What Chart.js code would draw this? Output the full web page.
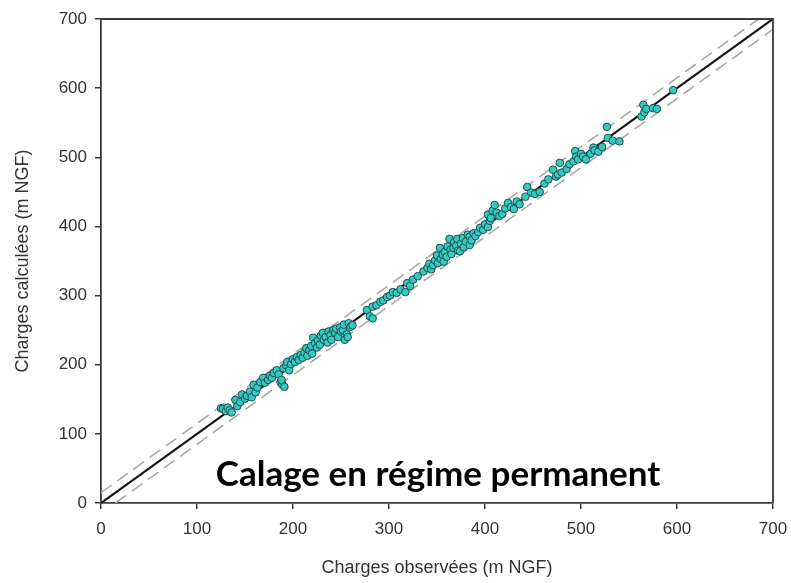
<!DOCTYPE html>
<html>
<head>
<meta charset="utf-8">
<script src="https://cdn.jsdelivr.net/npm/chart.js@4/dist/chart.umd.min.js"></script>
<style>
  body { margin: 0; background: #fff; }
  #wrap { position: relative; width: 791px; height: 583px; }
  #label {
    position: absolute; left: 438px; top: 455px; transform: translateX(-50%);
    font-family: Lato, "Open Sans", sans-serif; font-weight: bold; font-size: 35px;
    line-height: 1; white-space: nowrap; color: #000;
  }
</style>
</head>
<body>
<div id="wrap">
  <canvas id="chart" width="791" height="583"></canvas>
  <div id="label">Calage en régime permanent</div>
</div>
<script>
// observed heads (x) and computed heads (y), m NGF
const observed = [
  125, 127, 130, 132, 134, 136, 140, 142, 145, 147, 150, 152, 155, 157, 159, 161, 163, 166, 169, 171,
  174, 176, 178, 180, 183, 185, 187, 189, 191, 188, 190, 193, 194, 196, 198, 200, 202, 204, 206, 208,
  210, 212, 214, 215, 217, 219, 220, 221, 223, 225, 226, 228, 229, 231, 232, 234, 236, 237, 239, 240,
  242, 244, 245, 247, 249, 250, 252, 253, 254, 256, 257, 258, 260, 262,
  277, 280, 283, 283, 287, 291, 294, 298, 301, 304, 308, 312, 317, 319, 322, 325, 330, 336, 340, 342,
  344, 346, 348, 350, 351, 353, 354, 356, 357, 358, 360, 361, 363, 364, 365, 367, 368, 370, 371, 372,
  374, 375, 377, 378, 380, 382, 384, 384, 386, 388, 390, 393, 395, 398, 400, 403, 403, 405, 406, 408,
  410, 412, 415, 418, 421, 424, 427, 430, 433, 436, 442, 444, 448, 452, 457, 462, 466, 471, 474, 476,
  478, 480, 485, 488, 492, 494, 495, 497, 500, 502, 505, 510, 513, 514, 518, 522, 527, 528, 533, 540,
  563, 565, 566, 568, 575, 579, 596
];
const calculated = [
  137, 136, 133, 138, 134, 131, 149, 140, 146, 157, 151, 155, 161, 153, 171, 160, 167, 175, 181, 174,
  178, 184, 181, 188, 192, 186, 175, 171, 168, 178, 195, 199, 204, 192, 201, 208, 204, 211, 207, 214,
  210, 218, 224, 213, 221, 227, 216, 239, 231, 225, 235, 229, 242, 246, 236, 240, 232, 248, 243, 236,
  250, 246, 252, 240, 254, 248, 250, 258, 236, 244, 240, 260, 255, 257,
  279, 270, 267, 284, 286, 291, 293, 298, 300, 305, 304, 309, 305, 318, 314, 323, 328, 335, 340, 346,
  338, 344, 351, 358, 347, 369, 353, 359, 349, 363, 356, 371, 382, 366, 360, 369, 377, 372, 382, 365,
  364, 375, 383, 370, 378, 388, 385, 373, 380, 390, 386, 392, 398, 395, 403, 399, 417, 408, 412, 423,
  431, 420, 415, 418, 426, 434, 428, 425, 436, 432, 443, 457, 449, 447, 450, 462, 468, 482, 472, 475,
  492, 478, 483, 490, 494, 509, 501, 497, 505, 501, 497, 505, 514, 510, 508, 515, 544, 528, 524, 523,
  559, 576, 565, 570, 571, 570, 597
];
const axisTicks = [0, 100, 200, 300, 400, 500, 600, 700];
const axisMin = 0;
const axisMax = 700;
const tolerance = 15; // dashed band around the 1:1 line

const points = observed.map((x, i) => ({ x: x, y: calculated[i] }));

// box the plot on top and right like the original figure
const boxPlugin = {
  id: 'box',
  afterDraw(chart) {
    const { ctx, chartArea: a } = chart;
    ctx.save();
    ctx.strokeStyle = '#3a3a3a';
    ctx.lineWidth = 1.8;
    ctx.beginPath();
    ctx.moveTo(a.left, a.top);
    ctx.lineTo(a.right, a.top);
    ctx.lineTo(a.right, a.bottom);
    ctx.stroke();
    ctx.restore();
  }
};

const tickFont = { family: '"Liberation Sans", Arial, sans-serif', size: 17 };
const titleFont = { family: '"Liberation Sans", Arial, sans-serif', size: 18 };

const ctx = document.getElementById('chart').getContext('2d');
new Chart(ctx, {
  type: 'scatter',
  data: {
    datasets: [
      {
        label: 'Points',
        data: points,
        backgroundColor: '#35c9c2',
        borderColor: '#1d4f4f',
        borderWidth: 1,
        pointRadius: 3.8,
        order: 0
      },
      {
        type: 'line',
        label: '1:1',
        data: [{ x: axisMin, y: axisMin }, { x: axisMax, y: axisMax }],
        borderColor: '#111',
        borderWidth: 2.2,
        pointRadius: 0,
        order: 1
      },
      {
        type: 'line',
        label: '+tol',
        data: [{ x: axisMin, y: axisMin + tolerance }, { x: axisMax - tolerance, y: axisMax }],
        borderColor: '#a8a8a8',
        borderWidth: 1.6,
        borderDash: [13, 7],
        pointRadius: 0,
        order: 2
      },
      {
        type: 'line',
        label: '-tol',
        data: [{ x: axisMin + tolerance, y: axisMin }, { x: axisMax, y: axisMax - tolerance }],
        borderColor: '#a8a8a8',
        borderWidth: 1.6,
        borderDash: [13, 7],
        pointRadius: 0,
        order: 2
      }
    ]
  },
  options: {
    responsive: false,
    animation: false,
    layout: { padding: { left: 0, top: 19, right: 18, bottom: 0 } },
    plugins: {
      legend: { display: false },
      tooltip: { enabled: false }
    },
    scales: {
      x: {
        type: 'linear',
        min: axisMin,
        max: axisMax,
        afterBuildTicks: s => { s.ticks = axisTicks.map(v => ({ value: v })); },
        afterFit: s => { s.height = 80; s.paddingLeft = 0; s.paddingRight = 0; },
        grid: { drawOnChartArea: false, drawTicks: true, tickLength: 6, color: '#3a3a3a', lineWidth: 1.5 },
        border: { display: true, color: '#3a3a3a', width: 1.8 },
        ticks: { color: '#333', font: tickFont, padding: 10, maxRotation: 0 },
        title: { display: true, text: 'Charges observées (m NGF)', color: '#333', font: titleFont, padding: { bottom: 4 } }
      },
      y: {
        type: 'linear',
        min: axisMin,
        max: axisMax,
        afterBuildTicks: s => { s.ticks = axisTicks.map(v => ({ value: v })); },
        afterFit: s => { s.width = 101; },
        grid: { drawOnChartArea: false, drawTicks: true, tickLength: 6, color: '#3a3a3a', lineWidth: 1.5 },
        border: { display: true, color: '#3a3a3a', width: 1.8 },
        ticks: { color: '#333', font: tickFont, padding: 8 },
        title: { display: true, text: 'Charges calculées (m NGF)', color: '#333', font: titleFont, padding: { top: 12 } }
      }
    }
  },
  plugins: [boxPlugin]
});
</script>
</body>
</html>
